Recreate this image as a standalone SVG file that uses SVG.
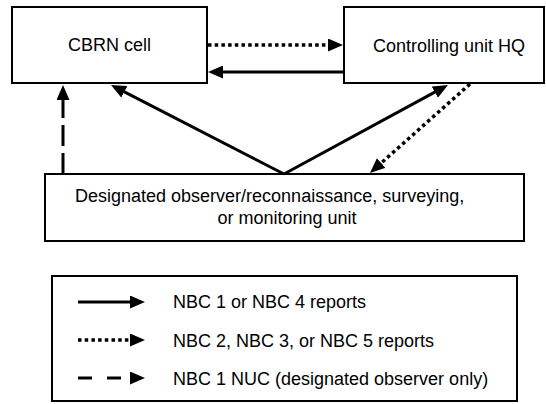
<svg xmlns="http://www.w3.org/2000/svg" width="546" height="404" viewBox="0 0 546 404">
  <style>
    .box { fill: #ffffff; stroke: #000000; stroke-width: 2; }
    .lbl { font-family: "Liberation Sans", Arial, sans-serif; font-size: 18px; fill: #000000; }
    .mid { text-anchor: middle; }
    .wire { fill: none; stroke: #000000; stroke-width: 3; stroke-linecap: butt; }
    .dot { stroke-width: 3.5; stroke-dasharray: 3.5 3.2; }
    .dash { stroke-dasharray: 21 7; }
  </style>
  <defs>
    <marker id="head" markerUnits="userSpaceOnUse" viewBox="0 0 15 13" markerWidth="15" markerHeight="13" refX="1" refY="6.5" orient="auto">
      <path d="M0,0 L15,6.5 L0,13 Z" fill="#000000"/>
    </marker>
  </defs>

  <rect width="546" height="404" fill="#ffffff"/>

  <!-- nodes -->
  <g id="cbrn-cell">
    <rect class="box" x="12" y="7" width="195" height="76"/>
    <text class="lbl mid" x="109.5" y="51">CBRN cell</text>
  </g>
  <g id="controlling-unit-hq">
    <rect class="box" x="344" y="7" width="200" height="76"/>
    <text class="lbl mid" x="449" y="51.5">Controlling unit HQ</text>
  </g>
  <g id="observer-unit">
    <rect class="box" x="45" y="174" width="479" height="67"/>
    <text class="lbl" x="75" y="202">Designated observer/reconnaissance, surveying,</text>
    <text class="lbl mid" x="287" y="223.5">or monitoring unit</text>
  </g>

  <!-- connectors -->
  <g id="connectors">
    <path class="wire dot" d="M208,45 L329,45" marker-end="url(#head)"/>
    <path class="wire" d="M343,72 L222,72" marker-end="url(#head)"/>
    <path class="wire" d="M284,174 L123.45,91.4" marker-end="url(#head)"/>
    <path class="wire" d="M284,174 L435.7,91.68" marker-end="url(#head)"/>
    <path class="wire dot" d="M470,84 L380.46,163.69" marker-end="url(#head)"/>
    <path class="wire dash" d="M63,174 L63,99" marker-end="url(#head)"/>
  </g>

  <!-- legend -->
  <g id="legend">
    <rect class="box" x="52" y="276" width="465" height="125"/>
    <path class="wire" d="M78,302 L131,302" marker-end="url(#head)"/>
    <path class="wire dot" d="M78,340 L131,340" marker-end="url(#head)"/>
    <path class="wire" style="stroke-dasharray: 14 15" d="M78,378 L131,378" marker-end="url(#head)"/>
    <text class="lbl" x="173" y="308">NBC 1 or NBC 4 reports</text>
    <text class="lbl" x="173" y="346.5">NBC 2, NBC 3, or NBC 5 reports</text>
    <text class="lbl" x="173" y="385">NBC 1 NUC (designated observer only)</text>
  </g>
</svg>
